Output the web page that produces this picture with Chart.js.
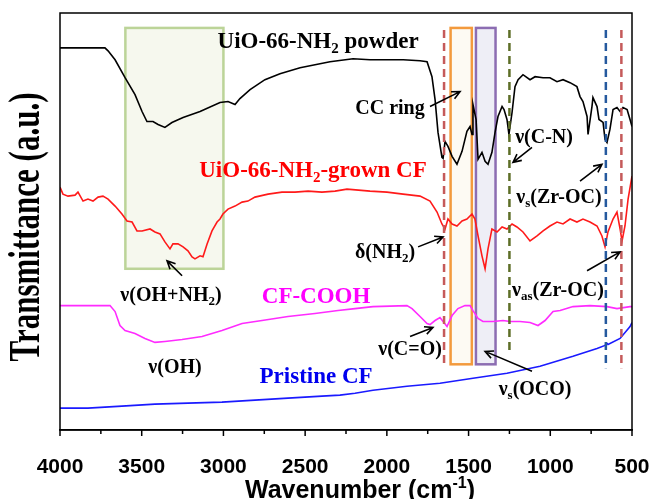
<!DOCTYPE html>
<html>
<head>
<meta charset="utf-8">
<script src="https://cdn.jsdelivr.net/npm/chart.js@4.4.1/dist/chart.umd.min.js"></script>
<style>
  html, body { margin: 0; padding: 0; background: #fff; }
  #wrap { width: 653px; height: 499px; }
</style>
</head>
<body>
<div id="wrap"><canvas id="ftir"></canvas></div>
<script>
/* FTIR spectra — UiO-66-NH2 powder / grown CF / CF-COOH / pristine CF */

// Wavenumber (cm-1) and transmittance (a.u., offset per trace)
const powderWn = [4000,3725,3706,3663,3602,3541,3498,3468,3431,3400,3358,3315,3247,3143,3021,2972,2929,2899,2837,2746,2654,2531,2409,2348,2207,2103,1900,1797,1754,1724,1705,1687,1663,1656,1644,1626,1601,1571,1540,1510,1491,1479,1473,1454,1442,1418,1399,1381,1357,1338,1320,1295,1283,1265,1253,1234,1216,1197,1167,1124,1093,1044,1002,959,922,879,837,818,800,775,769,745,739,714,702,677,665,653,635,616,592,573,555,530,512,500];
const powderT  = [384,384,381,372,354,337,320,310,310,307,304,309,314,320,329,330,327,333,342,352,358,364,368,370,373,372,372,371,370,355,332,299,274,273,290,285,275,267,280,300,305,297,327,312,272,279,270,267,279,299,315,325,322,312,297,319,345,352,357,352,355,354,354,350,352,349,345,335,330,315,297,325,334,325,312,309,292,289,302,322,324,320,324,322,312,305];

const grownWn = [4000,3982,3951,3908,3890,3859,3829,3798,3767,3737,3706,3663,3621,3590,3559,3529,3498,3449,3419,3388,3358,3327,3309,3278,3247,3217,3192,3174,3143,3125,3100,3070,3039,3021,3003,2972,2929,2886,2850,2807,2727,2642,2562,2482,2397,2317,2244,2103,1999,1901,1797,1736,1693,1663,1644,1626,1601,1571,1540,1510,1479,1461,1442,1418,1399,1381,1357,1326,1295,1265,1234,1204,1167,1124,1081,1044,1002,959,922,879,837,800,757,714,684,665,647,616,592,573,561,543,524,500];
const grownT  = [244,237,235,236,239,230,232,230,234,235,232,225,217,210,209,200,200,202,199,197,189,182,187,187,184,180,174,172,175,174,187,200,209,212,217,222,225,229,230,234,237,239,239,240,239,240,242,240,239,237,235,230,219,207,202,212,207,205,210,212,217,212,195,175,162,182,202,199,204,202,207,204,199,190,195,200,205,209,207,212,209,212,209,205,195,184,199,212,219,202,190,205,232,255];

const coohWn = [4000,3694,3663,3633,3602,3541,3480,3419,3358,3253,3131,3009,2886,2764,2605,2440,2299,2195,2085,1877,1846,1797,1754,1736,1705,1675,1656,1632,1601,1565,1522,1491,1473,1442,1412,1350,1289,1246,1185,1124,1075,1032,983,940,861,757,653,592,512,500];
const coohT  = [125,125,119,105,100,97,92,88,89,91,94,100,107,110,114,117,120,122,124,125,122,114,107,106,110,113,109,104,115,122,125,125,120,112,109,109,110,109,109,108,105,110,119,120,124,125,124,122,124,124];

const pristineWn = [4000,3829,3621,3419,3217,3009,2807,2605,2397,2287,2195,2085,1877,1675,1473,1265,1063,861,714,665,653,647,573,512,500];
const pristineT  = [22,22,24,26,27,28,30,32,34,35,37,40,44,47,52,57,64,74,82,85,87,86,92,104,108];

const seriesNames = ['UiO-66-NH2 powder', 'UiO-66-NH2-grown CF', 'CF-COOH', 'Pristine CF'];

// highlighted bands (cm-1) and marker lines (cm-1)
const bandRanges = [[3600, 3000], [1610, 1480], [1455, 1335]];
const markerWn = [1650, 1250, 660, 565];

const SERIF = '"Liberation Serif", "Times New Roman", serif';
const SANS  = '"Liberation Sans", Arial, sans-serif';

const bandStyle = [
  { lo: 162, hi: 404, stroke: '#bcd498', fill: 'rgba(238,243,224,0.55)' },
  { lo: 66,  hi: 404, stroke: '#f39a3d', fill: 'rgba(252,246,234,0.55)' },
  { lo: 66,  hi: 404, stroke: '#8c6db2', fill: 'rgba(232,232,243,0.75)' },
];
const markerStyle = [
  { color: '#c55a5a', lo: 64, hi: 402 },
  { color: '#5d6e27', lo: 76, hi: 402 },
  { color: '#25599e', lo: 62, hi: 402 },
  { color: '#c55a5a', lo: 62, hi: 402 },
];

// annotation texts: _{..} = subscript
const notes = [
  { t: 'UiO-66-NH_{2} powder',    wn: 2421, v: 392, size: 23, color: '#000' },
  { t: 'CC ring',                 wn: 1981, v: 325, size: 20, color: '#000' },
  { t: 'UiO-66-NH_{2}-grown CF',  wn: 2452, v: 262, size: 23, color: '#ff0000' },
  { t: 'ν(C-N)',                  wn: 1038, v: 295, size: 20, color: '#000' },
  { t: 'ν_{s}(Zr-OC)',            wn: 947,  v: 235, size: 20, color: '#000' },
  { t: 'δ(NH_{2})',               wn: 2011, v: 180, size: 20, color: '#000' },
  { t: 'ν(OH+NH_{2})',            wn: 3321, v: 137, size: 20, color: '#000' },
  { t: 'CF-COOH',                 wn: 2433, v: 136, size: 23, color: '#ff00ff' },
  { t: 'ν(OH)',                   wn: 3296, v: 64,  size: 20, color: '#000' },
  { t: 'Pristine CF',             wn: 2433, v: 55,  size: 23, color: '#0000ee' },
  { t: 'ν(C=O)',                  wn: 1858, v: 82,  size: 20, color: '#000' },
  { t: 'ν_{as}(Zr-OC)',           wn: 953,  v: 142, size: 20, color: '#000' },
  { t: 'ν_{s}(OCO)',              wn: 1093, v: 42,  size: 20, color: '#000' },
];
const arrows = [
  [[1736, 325], [1552, 340]],
  [[1112, 284], [1228, 269]],
  [[818, 250],  [684, 267]],
  [[1809, 184], [1656, 194]],
  [[3253, 155], [3345, 170]],
  [[1858, 94],  [1718, 103]],
  [[775, 160],  [573, 179]],
  [[1112, 59],  [1399, 79]],
];

function toXY(wn, t) {
  return wn.map((w, i) => ({ x: w, y: t[i] }));
}

// draws text centred on (cx, cy); _{..} subscript, ^{..} superscript
function richText(ctx, str, cx, cy, size, color, family) {
  const runs = str.split(/(_\{[^}]*\}|\^\{[^}]*\})/).filter(s => s).map(p =>
    p.startsWith('_{') ? { s: p.slice(2, -1), k: 'sub' } :
    p.startsWith('^{') ? { s: p.slice(2, -1), k: 'sup' } : { s: p, k: '' });
  const fontOf = r => `bold ${r.k ? Math.round(size * 0.65) : size}px ${family}`;
  let total = 0;
  runs.forEach(r => { ctx.font = fontOf(r); r.w = ctx.measureText(r.s).width; total += r.w; });
  let xx = cx - total / 2;
  const base = cy + size * 0.35;
  ctx.fillStyle = color;
  ctx.textAlign = 'left';
  ctx.textBaseline = 'alphabetic';
  runs.forEach(r => {
    ctx.font = fontOf(r);
    const dy = r.k === 'sub' ? size * 0.2 : r.k === 'sup' ? -size * 0.38 : 0;
    ctx.fillText(r.s, xx, base + dy);
    xx += r.w;
  });
}

const deco = {
  id: 'deco',
  beforeDatasetsDraw(chart) {
    const { ctx, scales: { x, y } } = chart;
    ctx.save();
    bandRanges.forEach((b, i) => {
      const st = bandStyle[i];
      const l = x.getPixelForValue(b[0]), r = x.getPixelForValue(b[1]);
      const t = y.getPixelForValue(st.hi), bt = y.getPixelForValue(st.lo);
      ctx.fillStyle = st.fill;
      ctx.fillRect(l, t, r - l, bt - t);
      ctx.strokeStyle = st.stroke;
      ctx.lineWidth = 2.5;
      ctx.strokeRect(l, t, r - l, bt - t);
    });
    ctx.restore();
  },
  afterDatasetsDraw(chart) {
    const { ctx, chartArea: a, scales: { x, y } } = chart;
    ctx.save();
    // dashed marker lines
    markerWn.forEach((w, i) => {
      const st = markerStyle[i];
      const px = x.getPixelForValue(w);
      ctx.strokeStyle = st.color;
      ctx.lineWidth = 2.5;
      ctx.setLineDash([8, 5]);
      ctx.beginPath();
      ctx.moveTo(px, y.getPixelForValue(st.hi));
      ctx.lineTo(px, y.getPixelForValue(st.lo));
      ctx.stroke();
    });
    ctx.setLineDash([]);
    // arrows
    ctx.strokeStyle = '#000';
    ctx.lineWidth = 1.6;
    arrows.forEach(([p0, p1]) => {
      const x0 = x.getPixelForValue(p0[0]), y0 = y.getPixelForValue(p0[1]);
      const x1 = x.getPixelForValue(p1[0]), y1 = y.getPixelForValue(p1[1]);
      const ang = Math.atan2(y1 - y0, x1 - x0);
      ctx.beginPath();
      ctx.moveTo(x0, y0);
      ctx.lineTo(x1, y1);
      ctx.moveTo(x1 - 9 * Math.cos(ang - 0.45), y1 - 9 * Math.sin(ang - 0.45));
      ctx.lineTo(x1, y1);
      ctx.lineTo(x1 - 9 * Math.cos(ang + 0.45), y1 - 9 * Math.sin(ang + 0.45));
      ctx.stroke();
    });
    // labels
    notes.forEach(n => richText(ctx, n.t, x.getPixelForValue(n.wn), y.getPixelForValue(n.v), n.size, n.color, SERIF));
    // frame
    ctx.strokeStyle = '#000';
    ctx.lineWidth = 1.5;
    ctx.strokeRect(a.left, a.top, a.right - a.left, a.bottom - a.top);
    // outward ticks: long at labelled values, short between
    x.ticks.forEach(t => {
      const px = x.getPixelForValue(t.value);
      ctx.beginPath();
      ctx.moveTo(px, a.bottom);
      ctx.lineTo(px, a.bottom + (t.value % 500 === 0 ? 6 : 4));
      ctx.stroke();
    });
    ctx.restore();
  },
  afterDraw(chart) {
    const { ctx, chartArea: a } = chart;
    ctx.save();
    // x title
    richText(ctx, 'Wavenumber (cm^{-1})', (a.left + a.right) / 2 + 14, 489, 25, '#000', SANS);
    // y title (stretched like the original)
    ctx.translate(28, 227);
    ctx.rotate(-Math.PI / 2);
    ctx.scale(1, 1.4);
    ctx.font = `bold 31px ${SERIF}`;
    ctx.fillStyle = '#000';
    ctx.textAlign = 'center';
    ctx.textBaseline = 'middle';
    ctx.fillText('Transmittance (a.u.)', 0, 0);
    ctx.restore();
  },
};

const line = (label, data, color) => ({
  label, data, borderColor: color, borderWidth: 1.6,
  pointRadius: 0, tension: 0, fill: false,
});

new Chart(document.getElementById('ftir'), {
  type: 'line',
  data: {
    datasets: [
      line(seriesNames[0], toXY(powderWn, powderT), '#000000'),
      line(seriesNames[1], toXY(grownWn, grownT), '#ff1a1a'),
      line(seriesNames[2], toXY(coohWn, coohT), '#ff2bff'),
      line(seriesNames[3], toXY(pristineWn, pristineT), '#1a1aff'),
    ],
  },
  options: {
    responsive: true, maintainAspectRatio: false,
    animation: false,
    layout: { padding: { left: 60, right: 21, top: 13, bottom: 19 } },
    plugins: { legend: { display: false }, tooltip: { enabled: false } },
    scales: {
      x: {
        type: 'linear', reverse: true, min: 500, max: 4000,
        border: { display: true, color: '#000', width: 1.5 },
        grid: { display: true, drawOnChartArea: false, drawTicks: true, tickLength: 25, tickColor: 'rgba(0,0,0,0)' },
        ticks: {
          stepSize: 250, autoSkip: false, maxRotation: 0, padding: 2,
          color: '#000', font: { family: SANS, size: 21, weight: 'bold', lineHeight: 1 },
          callback: v => v % 500 === 0 ? v : '',
        },
        title: { display: false },
      },
      y: { display: false, min: 0, max: 419 },
    },
  },
  plugins: [deco],
});
</script>
</body>
</html>
